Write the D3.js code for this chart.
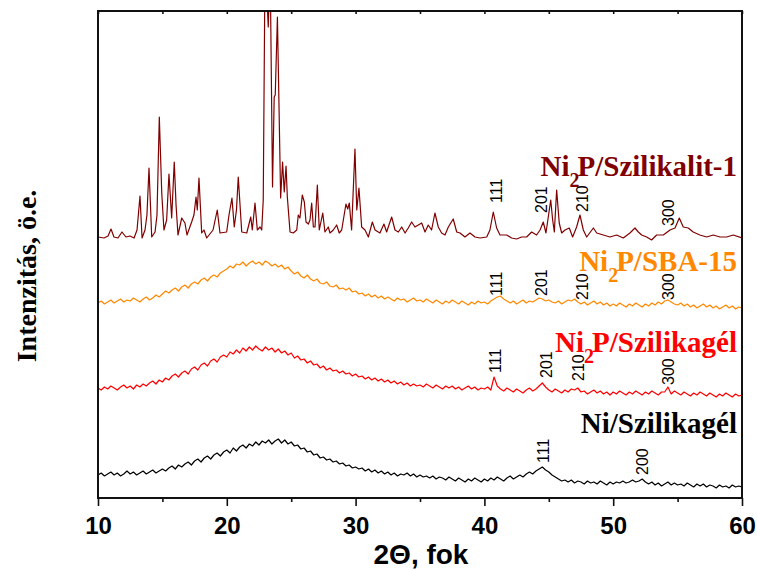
<!DOCTYPE html>
<html>
<head>
<meta charset="utf-8">
<script src="https://cdnjs.cloudflare.com/ajax/libs/d3/7.8.5/d3.min.js"></script>
<style>
  body { margin: 0; background: #fff; }
  .tick text { font-family: "Liberation Sans", Arial, sans-serif; font-weight: bold; font-size: 24px; fill: #000; }
  .hkl { font-family: "Liberation Sans", Arial, sans-serif; font-size: 16px; fill: #000; }
  .sample { font-family: "Liberation Serif", "Times New Roman", serif; font-weight: bold; font-size: 29px; }
</style>
</head>
<body>
<svg id="chart" width="757" height="570"></svg>
<script>
// 2-theta grid for the three amorphous samples (0.25 deg step)
const thetaGrid = d3.range(0, 201).map(i => 10 + i * 0.25);

// intensity (a.u., stacked)
const sba15 = [
  195,197,194,196,198,195,197,199,196,198, 197,200,198,196,199,201,198,200,203,201,
  204,207,205,208,210,207,211,213,210,214, 216,214,218,220,217,221,223,221,225,227,
  229,232,230,234,233,236,232,235,237,234, 236,233,237,235,232,234,231,233,229,231,
  227,224,226,222,220,223,219,217,219,215, 214,216,212,211,213,209,210,208,210,206,
  207,204,205,202,204,201,203,200,202,199, 201,199,197,200,198,199,196,198,200,197,
  198,196,199,197,195,198,196,194,197,195, 198,196,194,197,195,193,196,194,197,195,
  196,194,197,199,201,202,199,197,195,197, 194,196,198,195,197,196,198,200,199,197,
  198,196,195,197,194,196,198,197,199,196, 194,196,193,195,197,194,196,193,195,192,
  194,192,195,193,191,194,192,195,193,191, 194,192,195,193,196,194,197,198,196,194,
  193,195,192,194,191,193,190,192,194,191, 193,190,192,189,191,193,190,192,189,191,
  190
];
const szilikagelNi2P = [
  110,108,111,109,112,110,108,111,113,110, 112,109,113,111,114,112,115,117,114,118,
  116,120,118,122,124,121,125,127,124,129, 131,128,133,135,132,137,139,136,141,143,
  141,146,144,148,145,150,147,151,148,152, 149,147,151,148,150,146,149,145,147,143,
  145,140,142,138,139,135,137,133,134,130, 132,128,130,127,128,125,127,124,125,122,
  124,121,122,119,121,118,120,117,119,116, 118,115,117,114,116,113,115,112,114,112,
  113,111,114,112,110,113,111,109,112,110, 112,109,111,108,110,112,109,111,108,110,
  109,111,108,121,112,109,107,110,108,106, 109,107,105,108,110,107,109,112,115,111,
  108,106,109,107,105,108,106,109,108,110, 106,107,104,106,108,105,107,104,106,103,
  106,104,107,105,103,106,104,107,105,103, 106,104,107,105,103,106,106,111,104,107,
  105,103,106,104,102,105,103,106,104,102, 105,103,101,104,102,105,103,101,104,102,
  103
];
const szilikagelNi = [
  23,25,22,24,26,23,25,22,24,27, 24,26,23,25,27,24,26,28,25,27,
  29,27,30,32,29,33,31,34,36,33, 37,39,36,40,42,39,43,45,42,46,
  48,45,50,47,51,53,50,54,52,56, 53,57,55,58,54,57,59,55,58,54,
  56,52,53,49,50,46,47,43,44,40, 41,38,39,36,37,34,35,32,33,30,
  31,29,30,27,29,26,28,25,27,24, 26,23,25,22,24,23,25,22,24,21,
  23,21,22,20,22,19,21,20,18,21, 19,17,20,18,16,19,17,20,18,16,
  19,17,20,18,21,19,17,20,22,19, 21,23,21,24,26,24,27,29,31,28,
  26,23,21,19,17,18,16,18,15,17, 16,14,17,15,16,14,17,15,13,16,
  14,16,15,17,15,16,18,16,17,19, 16,14,16,13,15,12,14,16,13,15,
  13,14,12,15,13,11,14,12,14,11, 13,12,10,13,11,12,10,13,11,12,
  11
];
// silicalite-1: [2theta, intensity] at peaks and valleys
const szilikalit = [
  [10.00,261],[10.47,260],[10.78,262],[11.01,269],[11.24,261],[11.55,260],[11.86,266],[12.17,261],
  [12.48,262],[12.80,260],[13.03,268],[13.26,302],[13.42,260],[13.65,268],[13.80,283],[13.96,330],
  [14.17,261],[14.43,266],[14.58,283],[14.76,381],[14.95,305],[15.12,268],[15.33,278],[15.51,324],
  [15.72,280],[15.92,336],[16.06,293],[16.21,263],[16.50,280],[16.75,275],[16.91,263],[17.27,276],
  [17.45,283],[17.61,301],[17.71,288],[17.84,320],[18.05,265],[18.23,268],[18.44,260],[18.93,268],
  [19.26,288],[19.47,265],[19.99,266],[20.17,283],[20.40,300],[20.58,271],[20.75,288],[20.89,321],
  [21.16,266],[21.55,265],[21.86,281],[21.98,268],[22.19,295],[22.37,268],[22.58,271],[22.71,268],
  [22.83,298],[22.97,540],[23.22,471],[23.36,540],[23.55,311],[23.68,401],[23.76,403],[23.93,481],
  [24.18,300],[24.33,336],[24.46,306],[24.60,332],[24.70,301],[24.91,266],[25.16,265],[25.43,268],
  [25.55,283],[25.68,280],[25.86,303],[26.02,296],[26.15,276],[26.33,274],[26.46,278],[26.59,295],
  [26.72,271],[26.85,271],[27.03,313],[27.18,268],[27.45,285],[27.62,266],[27.88,271],[28.01,265],
  [28.27,268],[28.53,273],[28.73,265],[28.92,268],[29.25,294],[29.39,289],[29.51,295],[29.69,268],
  [29.95,349],[30.09,288],[30.26,310],[30.47,271],[30.73,268],[30.99,261],[31.30,276],[31.51,268],
  [31.89,265],[32.20,274],[32.41,266],[32.80,281],[33.06,268],[33.32,266],[33.58,271],[33.84,265],
  [34.09,270],[34.35,276],[34.61,271],[34.87,273],[35.13,275],[35.39,266],[35.64,273],[35.90,268],
  [36.16,285],[36.42,271],[36.68,265],[36.94,263],[37.20,271],[37.58,279],[37.85,266],[38.11,265],
  [38.49,261],[38.88,265],[39.27,261],[39.66,260],[40.18,261],[40.43,268],[40.69,286],[40.95,270],
  [41.21,263],[41.73,263],[42.11,260],[42.50,259],[42.89,261],[43.28,261],[43.67,266],[44.05,263],
  [44.32,268],[44.57,276],[44.78,265],[44.96,281],[45.15,298],[45.30,278],[45.43,266],[45.61,308],
  [45.81,275],[46.00,265],[46.26,268],[46.59,270],[46.85,261],[47.16,271],[47.42,283],[47.68,268],
  [47.94,261],[48.46,270],[48.72,265],[49.23,263],[49.75,261],[50.27,263],[50.78,260],[51.30,265],
  [51.69,270],[51.95,266],[52.21,263],[52.60,261],[52.98,258],[53.37,263],[53.89,263],[54.41,268],
  [54.80,270],[55.13,280],[55.44,271],[55.83,270],[56.21,266],[56.73,263],[57.26,261],[57.77,263],
  [58.29,261],[58.81,261],[59.32,263],[60.00,260]
];

const sampleNames = ['Ni2P/Szilikalit-1', 'Ni2P/SBA-15', 'Ni2P/Szilikagél', 'Ni/Szilikagél'];
const sampleColors = ['#800000', '#ff8800', '#ff0000', '#000000'];
const labelLevels = [322, 227, 146, 65];   // where the sample names sit (a.u.)

// reflection labels: [hkl, 2theta, intensity level of the label's foot]
const hklSzilikalit = [['111', 40.90, 295], ['201', 44.43, 285], ['210', 47.58, 286], ['300', 54.25, 272]];
const hklSBA = [['111', 40.90, 202], ['201', 44.43, 202], ['210', 47.58, 198], ['300', 54.25, 198]];
const hklSzilikagel = [['111', 40.82, 125], ['201', 44.78, 120], ['210', 47.27, 117], ['300', 54.25, 113]];
const hklNi = [['111', 44.55, 35], ['200', 52.2, 23]];

const majorTicks = [10, 20, 30, 40, 50, 60];
const minorTicks = [15, 25, 35, 45, 55];

const svg = d3.select('#chart');
const x = d3.scaleLinear().domain([10, 60]).range([98, 742]);
const y = d3.scaleLinear().domain([0, 487]).range([498, 11]);

svg.append('clipPath').attr('id', 'plot-clip')
  .append('rect').attr('x', 98).attr('y', 11).attr('width', 644).attr('height', 487);

const line = d3.line().x(d => x(d[0])).y(d => y(d[1]));
const series = [
  szilikalit,
  thetaGrid.map((t, i) => [t, sba15[i]]),
  thetaGrid.map((t, i) => [t, szilikagelNi2P[i]]),
  thetaGrid.map((t, i) => [t, szilikagelNi[i]])
];

const traces = svg.append('g').attr('clip-path', 'url(#plot-clip)');
series.forEach((s, i) => {
  traces.append('path')
    .attr('d', line(s))
    .attr('fill', 'none')
    .attr('stroke', sampleColors[i])
    .attr('stroke-width', 1.2)
    .attr('stroke-linejoin', 'round');
});

// sample names with subscript 2
sampleNames.forEach((name, i) => {
  const t = svg.append('text').attr('class', 'sample')
    .attr('x', 737).attr('y', y(labelLevels[i]))
    .attr('text-anchor', 'end').attr('fill', sampleColors[i]);
  if (name.startsWith('Ni2P')) {
    t.append('tspan').text('Ni');
    t.append('tspan').attr('dy', 11).attr('font-size', 20).text('2');
    t.append('tspan').attr('dy', -11).attr('dx', -2).text(name.slice(3));
  } else {
    t.text(name);
  }
});

// hkl annotations, rotated
[hklSzilikalit, hklSBA, hklSzilikagel, hklNi].forEach(list => {
  list.forEach(([hkl, th, lv]) => {
    svg.append('text').attr('class', 'hkl')
      .attr('transform', `translate(${x(th) + 6},${y(lv)}) rotate(-90)`)
      .text(hkl);
  });
});

// axes
const bottomAxis = svg.append('g').attr('transform', 'translate(0,498)');
bottomAxis.call(d3.axisBottom(x).tickValues(majorTicks).tickSize(8).tickFormat(d3.format('d')));
bottomAxis.selectAll('.tick text').attr('y', 36).attr('dy', 0);
bottomAxis.select('.domain').remove();
const bottomMinor = svg.append('g').attr('transform', 'translate(0,498)');
bottomMinor.call(d3.axisBottom(x).tickValues(minorTicks).tickSize(4).tickFormat(''));
bottomMinor.select('.domain').remove();
const topAxis = svg.append('g').attr('transform', 'translate(0,11)');
topAxis.call(d3.axisTop(x).tickValues(majorTicks.concat(minorTicks)).tickSize(-3).tickFormat(''));
topAxis.select('.domain').remove();
svg.selectAll('.tick line').attr('stroke', '#111').attr('stroke-width', 1.6);

svg.append('rect').attr('x', 98).attr('y', 11).attr('width', 644).attr('height', 487)
  .attr('fill', 'none').attr('stroke', '#111').attr('stroke-width', 2);

svg.append('text')
  .attr('x', 421).attr('y', 564).attr('text-anchor', 'middle')
  .attr('font-family', '"Liberation Sans", Arial, sans-serif')
  .attr('font-weight', 'bold').attr('font-size', 28)
  .text('2Θ, fok');

svg.append('text')
  .attr('transform', 'translate(36,276) rotate(-90)')
  .attr('text-anchor', 'middle')
  .attr('font-family', '"Liberation Serif", "Times New Roman", serif')
  .attr('font-weight', 'bold').attr('font-size', 28)
  .text('Intenzitás, ö.e.');
</script>
</body>
</html>
